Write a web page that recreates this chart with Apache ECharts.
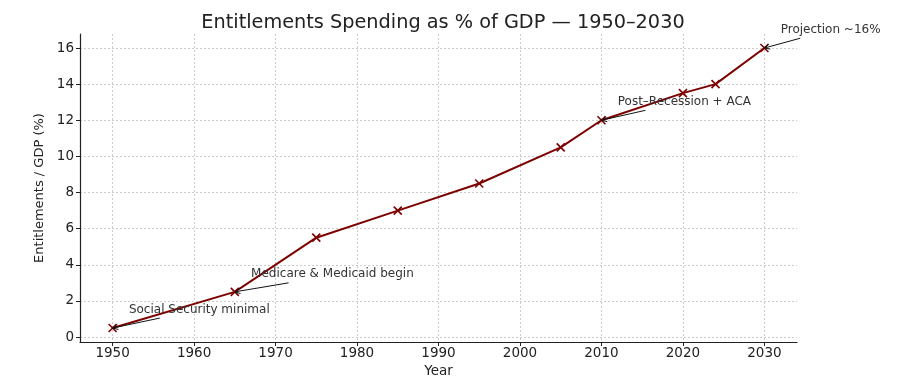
<!DOCTYPE html>
<html>
<head>
<meta charset="utf-8">
<script src="https://cdn.jsdelivr.net/npm/echarts@6/dist/echarts.min.js"></script>
<style>html,body{margin:0;padding:0;background:#fff;}#c{width:900px;height:382px;}</style>
</head>
<body>
<div id="c"></div>
<script>
const years = [1950, 1965, 1975, 1985, 1995, 2005, 2010, 2020, 2024, 2030];
const shares = [0.5, 2.5, 5.5, 7.0, 8.5, 10.5, 12.0, 13.5, 14.0, 16.0];
const xTicks = [1950, 1960, 1970, 1980, 1990, 2000, 2010, 2020, 2030];
const yTicks = [0, 2, 4, 6, 8, 10, 12, 14, 16];
const annoTexts = ['Social Security minimal', 'Medicare & Medicaid begin', 'Post\u2013Recession + ACA', 'Projection ~16%'];
const annoPoints = [[1950, 0.5], [1965, 2.5], [2010, 12.0], [2030, 16.0]];
const annoTextPos = [[1952, 1.49], [1967, 3.48], [2012, 13.0], [2032, 17.0]];
const annoArrowFrom = [[1955.8, 1.05], [1971.6, 3.0], [2015.4, 12.55], [2034.4, 16.54]];

const font = 'DejaVu Sans';
const ink = '#222';
const chart = echarts.init(document.getElementById('c'));
chart.setOption({
  animation: false,
  title: {
    text: 'Entitlements Spending as % of GDP \u2014 1950\u20132030',
    left: 438, top: 8, textAlign: 'center',
    textStyle: {fontFamily: font, fontSize: 19.3, fontWeight: 'normal', color: ink}
  },
  grid: {left: 80, right: 103, top: 34, bottom: 40, containLabel: false, outerBoundsMode: 'none'},
  xAxis: {
    type: 'value', min: 1946, max: 2034,
    name: 'Year', nameLocation: 'middle', nameGap: 21,
    nameTextStyle: {fontFamily: font, fontSize: 13.5, color: ink},
    axisLine: {show: true, onZero: false, lineStyle: {color: ink, width: 1.2}},
    axisTick: {show: true, length: 4, customValues: xTicks, lineStyle: {color: ink}},
    axisLabel: {customValues: xTicks, fontFamily: font, fontSize: 13.5, color: ink, margin: 4,
      formatter: v => String(v)},
    splitLine: {show: true, lineStyle: {color: '#ccc', type: [2, 2], width: 1}}
  },
  yAxis: {
    type: 'value', min: -0.275, max: 16.775,
    name: 'Entitlements / GDP (%)', nameLocation: 'middle', nameGap: 25,
    nameTextStyle: {fontFamily: font, fontSize: 13, color: ink},
    axisLine: {show: true, onZero: false, lineStyle: {color: ink, width: 1.2}},
    axisTick: {show: true, length: 4, customValues: yTicks, lineStyle: {color: ink}},
    axisLabel: {customValues: yTicks, fontFamily: font, fontSize: 13.5, color: ink, margin: 6,
      formatter: v => String(v)},
    splitLine: {show: true, lineStyle: {color: '#ccc', type: [2, 2], width: 1}}
  },
  series: [{
    type: 'line',
    data: years.map((y, i) => [y, shares[i]]),
    symbol: 'path://M0,0L10,10M10,0L0,10',
    symbolSize: 8,
    itemStyle: {color: '#7d0000', borderColor: '#7d0000', borderWidth: 1.6},
    lineStyle: {color: '#7d0000', width: 2},
    clip: false,
    z: 3
  }]
});

// annotations (text + arrow), positioned in data coordinates through the grid
const graphics = [];
annoTexts.forEach((t, i) => {
  const tp = chart.convertToPixel({gridIndex: 0}, annoTextPos[i]);
  const a = chart.convertToPixel({gridIndex: 0}, annoArrowFrom[i]);
  const b = chart.convertToPixel({gridIndex: 0}, annoPoints[i]);
  const ang = Math.atan2(b[1] - a[1], b[0] - a[0]);
  const hl = 6, hw = 0.45;
  const h1 = [b[0] - hl * Math.cos(ang - hw), b[1] - hl * Math.sin(ang - hw)];
  const h2 = [b[0] - hl * Math.cos(ang + hw), b[1] - hl * Math.sin(ang + hw)];
  graphics.push({
    type: 'text', x: tp[0], y: tp[1], z: 10,
    style: {text: t, fontFamily: font, fontSize: 12, fill: '#333', textVerticalAlign: 'middle', textAlign: 'left'}
  });
  graphics.push({
    type: 'line', z: 11,
    shape: {x1: a[0], y1: a[1], x2: b[0], y2: b[1]},
    style: {stroke: '#111', lineWidth: 1}
  });
  graphics.push({
    type: 'polyline', z: 11,
    shape: {points: [h1, b, h2]},
    style: {stroke: '#111', lineWidth: 1, fill: null}
  });
});
chart.setOption({graphic: graphics});
</script>
</body>
</html>
